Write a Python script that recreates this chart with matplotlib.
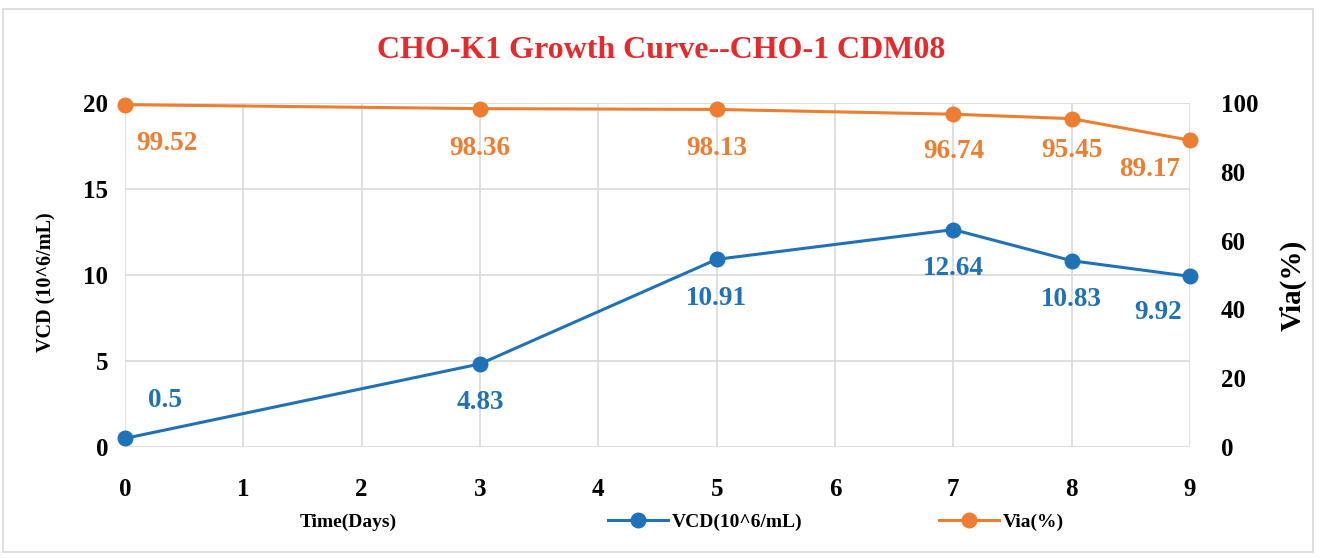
import matplotlib.pyplot as plt
from matplotlib.lines import Line2D
from matplotlib.patches import Rectangle

plt.rcParams['font.family'] = ['Liberation Serif', 'DejaVu Serif']
plt.rcParams['font.weight'] = 'bold'

# data
days = [0, 3, 5, 7, 8, 9]
vcd = [0.5, 4.83, 10.91, 12.64, 10.83, 9.92]
via = [99.52, 98.36, 98.13, 96.74, 95.45, 89.17]

# label offsets (points) relative to each point
vcd_off = [(29, 27), (0, -28), (0, -28), (0, -28), (0, -28), (-23, -26)]
via_off = [(30, -28), (0, -29), (0, -28), (0, -27), (0, -23), (-29, -21)]

blue = '#1F71B8'
orange = '#ED7D31'
grid_c = '#D9D9D9'

fig = plt.figure(figsize=(13.2, 5.58), dpi=100)
ax = fig.add_axes([125 / 1320, 111 / 558, 1065 / 1320, 344 / 558])
ax2 = ax.twinx()

ax.set_xlim(0, 9)
ax.set_ylim(0, 20)
ax2.set_ylim(0, 100)
ax.set_xticks(range(10))
ax.set_yticks([0, 5, 10, 15, 20])
ax2.set_yticks([0, 20, 40, 60, 80, 100])
ax.grid(True, color=grid_c, linewidth=1.2)
ax.set_axisbelow(True)
for a in (ax, ax2):
    for s in a.spines.values():
        s.set_visible(False)
ax.tick_params(axis='both', length=0, labelsize=18)
ax.tick_params(axis='x', pad=22)
ax.tick_params(axis='y', pad=12)
ax2.tick_params(axis='y', length=0, labelsize=18, pad=22)

ax.plot(days, vcd, color=blue, linewidth=2.2, marker='o', markersize=10.5, clip_on=False, zorder=3)
ax2.plot(days, via, color=orange, linewidth=2.2, marker='o', markersize=10.5, clip_on=False, zorder=3)

for d, v, off in zip(days, vcd, vcd_off):
    ax.annotate(str(v), (d, v), xytext=off, textcoords='offset points',
                ha='center', va='center', fontsize=19.5, color=blue)
for d, v, off in zip(days, via, via_off):
    ax2.annotate(f"{v:.2f}", (d, v), xytext=off, textcoords='offset points',
                 ha='center', va='center', fontsize=19.5, color=orange)

fig.text(661 / 1320, 1 - 51 / 558, 'CHO-K1 Growth Curve--CHO-1 CDM08', ha='center', va='center',
         fontsize=23, color='#E8292B')
fig.text(46 / 1320, 1 - 282 / 558, 'VCD (10^6/mL)', rotation=90, ha='center', va='center', fontsize=14.5)
fig.text(1293 / 1320, 1 - 285 / 558, 'Via(%)', rotation=90, ha='center', va='center', fontsize=21)
fig.text(348 / 1320, 1 - 522 / 558, 'Time(Days)', ha='center', va='center', fontsize=14)

handles = [Line2D([], [], color=blue, linewidth=2.2, marker='o', markersize=10.5),
           Line2D([], [], color=orange, linewidth=2.2, marker='o', markersize=10.5)]
fig.legend(handles, ['VCD(10^6/mL)', 'Via(%)'], loc='center', bbox_to_anchor=(836 / 1320, 1 - 522 / 558),
           ncol=2, frameon=False, fontsize=14, handlelength=3.1, handletextpad=0.2, columnspacing=7)

fig.patches.append(Rectangle((3 / 1320, 6 / 558), 1310 / 1320, 543 / 558, transform=fig.transFigure,
                             fill=False, edgecolor=grid_c, linewidth=1.2))

plt.savefig('out.png', dpi=100)
